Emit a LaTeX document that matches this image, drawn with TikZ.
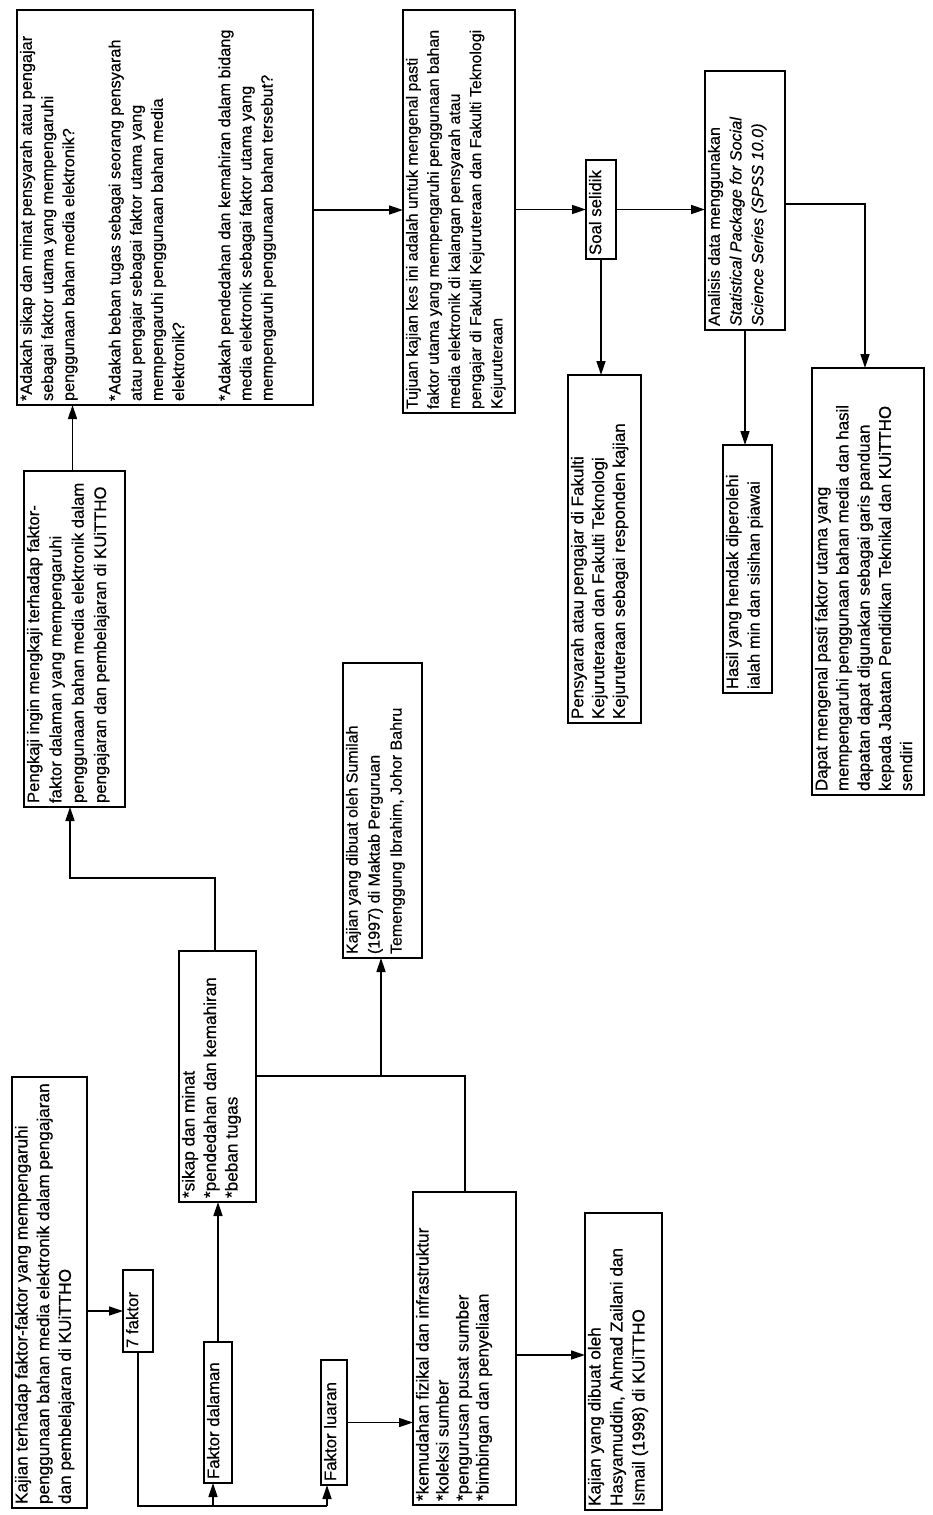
\documentclass[tikz,border=0pt]{standalone}
\usepackage{fontspec}
\setmainfont{Liberation Sans}[FakeBold=0.45]
\usepackage{graphicx}
\usetikzlibrary{arrows.meta,calc}
\tikzset{
  rbx/.style={draw=black, line width=1.7pt, inner sep=0pt, outer sep=0pt, fill=white},
  conn/.style={line width=1.5pt, black},
  arr/.style={conn, -{Triangle[length=14pt,width=9pt]}}
}
\newcommand\nl{\\\relax}
% #1 font size, #2 baselineskip, #3 name, #4 L, #5 T, #6 R, #7 B, #8 text
\newcommand\rbox[8][16.8]{%
  \pgfmathsetlengthmacro\bw{#6-#4}%
  \pgfmathsetlengthmacro\bh{#7-#5}%
  \node[rbx, minimum width=\bw, minimum height=\bh] (#3) at ({(#4+#6)/2},{(#5+#7)/2})
   {\rotatebox{90}{\begin{minipage}[c][\dimexpr\bw-6pt\relax][t]{\dimexpr\bh-8pt\relax}\fontsize{#1}{#2}\selectfont\raggedright #8\end{minipage}}};%
}
\begin{document}
\begin{tikzpicture}[x=1pt,y=-1pt]
\useasboundingbox (0,0) rectangle (932,1515);
\fill[white] (0,0) rectangle (932,1515);

% boxes
\rbox[17.2]{21.7pt}{kajian}{12}{1077}{87}{1508}{Kajian terhadap faktor-faktor yang mempengaruhi\nl penggunaan bahan media elektronik dalam pengajaran\nl dan pembelajaran di KUiTTHO}
\rbox{21pt}{tujuh}{123}{1270}{153}{1352}{7 faktor}
\rbox{21pt}{dalaman}{204}{1342}{232}{1483}{Faktor dalaman}
\rbox{21pt}{luaran}{321}{1360}{347}{1485}{Faktor luaran}
\rbox[17.2]{21.5pt}{sikap}{179}{951}{256}{1202}{*sikap dan minat\nl *pendedahan dan kemahiran\nl *beban tugas}
\rbox[17.2]{20pt}{kemudahan}{413}{1192}{516}{1505}{*kemudahan fizikal dan infrastruktur\nl *koleksi sumber\nl *pengurusan pusat sumber\nl *bimbingan dan penyeliaan}
\rbox[17.2]{22pt}{hasyam}{585}{1213}{662}{1510}{Kajian yang dibuat oleh\nl Hasyamuddin, Ahmad Zailani dan\nl Ismail (1998) di KUiTTHO}
\rbox[16]{22pt}{sumilah}{343}{663}{422}{958}{Kajian yang dibuat oleh Sumilah\nl (1997) di Maktab Perguruan\nl Temenggung Ibrahim, Johor Bahru}
\rbox[16.7]{22.3pt}{pengkaji}{24}{471}{125}{807}{Pengkaji ingin mengkaji terhadap faktor-\nl faktor dalaman yang mempengaruhi\nl penggunaan bahan media elektronik dalam\nl pengajaran dan pembelajaran di KUiTTHO}
\rbox[16.3]{21.2pt}{soalan}{17}{10}{313}{405}{*Adakah sikap dan minat pensyarah atau pengajar\nl sebagai faktor utama yang mempengaruhi\nl penggunaan bahan media elektronik?\\[25pt]*Adakah beban tugas sebagai seorang pensyarah\nl atau pengajar sebagai faktor utama yang\nl mempengaruhi penggunaan bahan media\nl elektronik?\\[25pt]*Adakah pendedahan dan kemahiran dalam bidang\nl media elektronik sebagai faktor utama yang\nl mempengaruhi penggunaan bahan tersebut?}
\rbox[15.9]{21.2pt}{tujuan}{403}{10}{515}{413}{Tujuan kajian kes ini adalah untuk mengenal pasti\nl faktor utama yang mempengaruhi penggunaan bahan\nl media elektronik di kalangan pensyarah atau\nl pengajar di Fakulti Kejuruteraan dan Fakulti Teknologi\nl Kejuruteraan}
\rbox{21pt}{soal}{586}{160}{616}{259}{Soal selidik}
\rbox[17]{20.8pt}{pensyarah}{568}{375}{641}{723}{Pensyarah atau pengajar di Fakulti\nl Kejuruteraan dan Fakulti Teknologi\nl Kejuruteraan sebagai responden kajian}
\rbox[16.2]{21.7pt}{analisis}{705}{71}{785}{330}{Analisis data menggunakan\nl \textit{Statistical Package for Social}\nl \textit{Science Series (SPSS 10.0)}}
\rbox[16.7]{21.5pt}{hasil}{723}{445}{772}{693}{Hasil yang hendak diperolehi\nl ialah min dan sisihan piawai}
\rbox[16.9]{21.2pt}{dapat}{812}{368}{924}{795}{Dapat mengenal pasti faktor utama yang\nl mempengaruhi penggunaan bahan media dan hasil\nl dapatan dapat digunakan sebagai garis panduan\nl kepada Jabatan Pendidikan Teknikal dan KUiTTHO\nl sendiri}

% helper coordinates
\coordinate (busD) at (213,1506);
\coordinate (busR) at (327,1506);
\coordinate (j1) at (381,1076);
\coordinate (j2) at (465,1076);
\coordinate (c1) at (215,878);
\coordinate (c2) at (70,878);
\coordinate (y1) at (0,210);
\coordinate (k1) at (865,204);
\coordinate (m1) at (0,1355);

% connectors
\draw[arr] (kajian.east |- tujuh.west) -- (tujuh.west);
\draw[conn] (tujuh.south) |- (busR);
\draw[arr] (busD) -- (busD |- dalaman.south);
\draw[arr] (busR) -- (busR |- luaran.south);
\draw[arr] (dalaman.north) -- (dalaman.north |- sikap.south);
\draw[conn] (sikap.east |- j1) -- (j2) -- (j2 |- kemudahan.north);
\draw[arr] (j1) -- (j1 |- sumilah.south);
\draw[arr] (c1 |- sikap.north) -- (c1) -- (c2) -- (c2 |- pengkaji.south);
\draw[arr] ([xshift=-2pt]pengkaji.north) -- ([xshift=-2pt]pengkaji.north |- soalan.south);
\draw[arr] (soalan.east |- y1) -- (tujuan.west |- y1);
\draw[arr] (tujuan.east |- soal.west) -- (soal.west);
\draw[arr] (soal.east) -- (soal.east -| analisis.west);
\draw[arr] (soal.south) -- (soal.south |- pensyarah.north);
\draw[arr] (analisis.east |- k1) -- (k1) -- (k1 |- dapat.north);
\draw[arr] (analisis.south) -- (analisis.south |- hasil.north);
\draw[arr] (kemudahan.east |- m1) -- (hasyam.west |- m1);
\draw[arr] (luaran.east) -- (luaran.east -| kemudahan.west);
\end{tikzpicture}
\end{document}
